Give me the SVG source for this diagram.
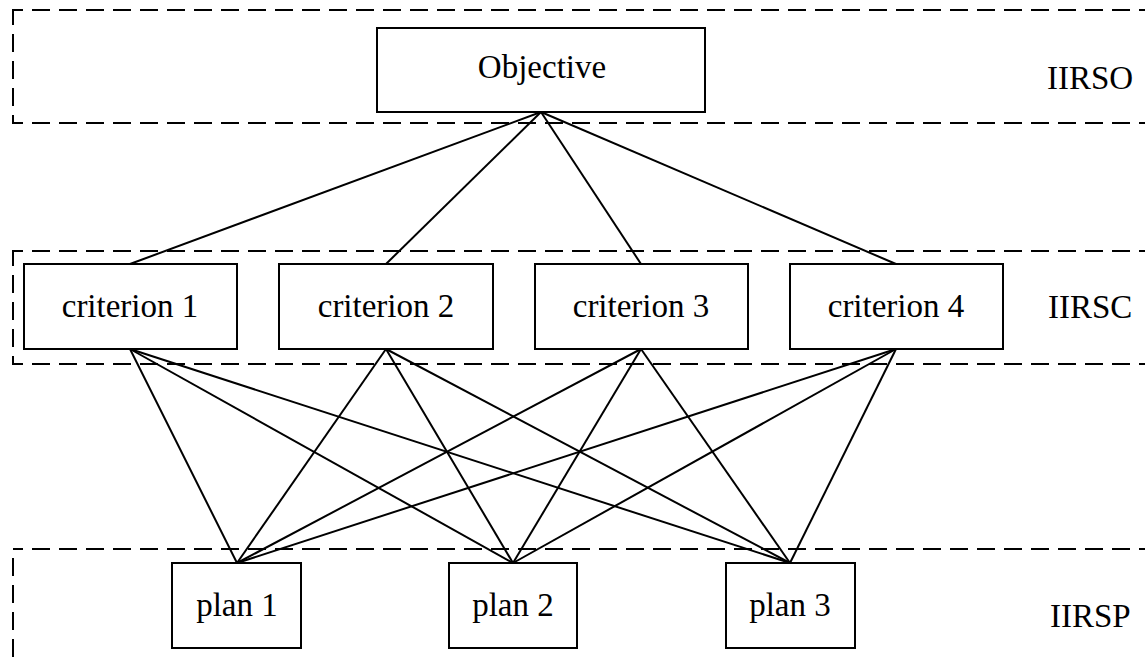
<svg xmlns="http://www.w3.org/2000/svg" width="1145" height="661" viewBox="0 0 1145 661">
<style>
.layer{fill:none;stroke:#000;stroke-width:2;stroke-dasharray:18 9;stroke-dashoffset:8}
.box{fill:#fff;stroke:#000;stroke-width:2}
.t{font-family:"Liberation Serif","Times New Roman",serif;font-size:33px;fill:#000}
.c{text-anchor:middle}
#connectors line{stroke:#000;stroke-width:2}
</style>
<rect width="1145" height="661" fill="#fff"/>
<g id="layers">
<rect class="layer" x="13" y="10" width="1200" height="113"/>
<rect class="layer" x="13" y="251" width="1200" height="113"/>
<rect class="layer" x="13" y="549" width="1200" height="200"/>
</g>
<g id="connectors">
<line x1="541" y1="112" x2="130" y2="264"/>
<line x1="541" y1="112" x2="386" y2="264"/>
<line x1="541" y1="112" x2="641" y2="264"/>
<line x1="541" y1="112" x2="896" y2="264"/>
<line x1="130" y1="349" x2="237" y2="563"/>
<line x1="130" y1="349" x2="513" y2="563"/>
<line x1="130" y1="349" x2="790" y2="563"/>
<line x1="386" y1="349" x2="237" y2="563"/>
<line x1="386" y1="349" x2="513" y2="563"/>
<line x1="386" y1="349" x2="790" y2="563"/>
<line x1="641" y1="349" x2="237" y2="563"/>
<line x1="641" y1="349" x2="513" y2="563"/>
<line x1="641" y1="349" x2="790" y2="563"/>
<line x1="896" y1="349" x2="237" y2="563"/>
<line x1="896" y1="349" x2="513" y2="563"/>
<line x1="896" y1="349" x2="790" y2="563"/>
</g>
<g id="objective"><rect class="box" x="377" y="28" width="328" height="84"/><text class="t c" x="542" y="78">Objective</text></g>
<g id="criterion1"><rect class="box" x="24" y="264" width="213" height="85"/><text class="t c" x="130" y="317">criterion 1</text></g>
<g id="criterion2"><rect class="box" x="279" y="264" width="214" height="85"/><text class="t c" x="386" y="317">criterion 2</text></g>
<g id="criterion3"><rect class="box" x="535" y="264" width="213" height="85"/><text class="t c" x="641" y="317">criterion 3</text></g>
<g id="criterion4"><rect class="box" x="790" y="264" width="213" height="85"/><text class="t c" x="896" y="317">criterion 4</text></g>
<g id="plan1"><rect class="box" x="172" y="563" width="129" height="85"/><text class="t c" x="237" y="616">plan 1</text></g>
<g id="plan2"><rect class="box" x="449" y="563" width="128" height="85"/><text class="t c" x="513" y="616">plan 2</text></g>
<g id="plan3"><rect class="box" x="726" y="563" width="129" height="85"/><text class="t c" x="790" y="616">plan 3</text></g>
<g id="labels">
<text class="t" x="1047" y="89">IIRSO</text>
<text class="t" x="1048" y="318">IIRSC</text>
<text class="t" x="1050" y="627">IIRSP</text>
</g>
</svg>
